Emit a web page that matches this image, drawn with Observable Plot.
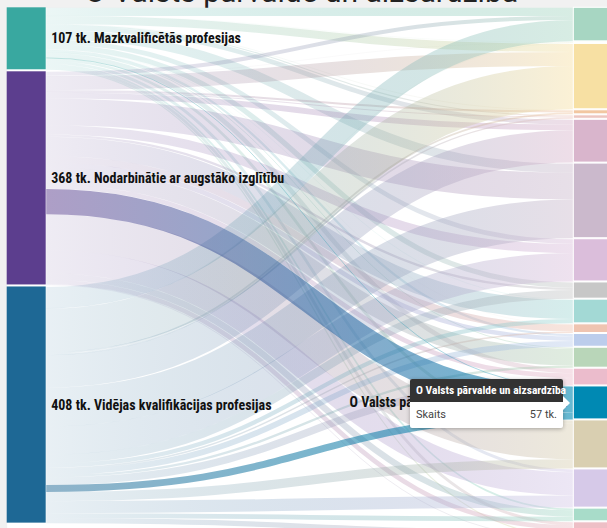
<!DOCTYPE html>
<html><head><meta charset="utf-8">
<script src="https://cdn.jsdelivr.net/npm/d3@7"></script>
<script src="https://cdn.jsdelivr.net/npm/@observablehq/plot@0.6"></script>
<style>
html,body{margin:0;padding:0;background:#f1f1f1;overflow:hidden;}
#wrap{position:relative;width:607px;height:528px;overflow:hidden;}
#title{position:absolute;left:0;width:603px;top:-23px;text-align:center;font-family:Roboto,sans-serif;font-size:30px;line-height:30px;color:#222;white-space:nowrap;}
#chart{position:absolute;left:0;top:0;}
#chart svg{overflow:hidden;}
.tip{position:absolute;left:410px;top:379px;width:153px;background:#fff;box-shadow:0 1px 4px rgba(0,0,0,.3);border-radius:2px;}
.tip .hd{background:#333;color:#fff;font-family:'Roboto Condensed','Liberation Sans Narrow','DejaVu Sans Condensed',sans-serif;font-weight:bold;font-size:11.5px;height:23px;line-height:23px;padding:0 6px;white-space:nowrap;border-radius:2px 2px 0 0;}
.tip .bd{display:flex;justify-content:space-between;padding:0 6px;height:26px;line-height:26px;font-family:Roboto,sans-serif;font-size:11px;color:#444;}
.tip .arrow{position:absolute;right:-7px;top:17px;width:0;height:0;border-top:7px solid transparent;border-bottom:7px solid transparent;border-left:7px solid #fff;}
</style></head>
<body>
<div id="wrap">
  <div id="title"></div>
  <div id="chart"></div>
</div>
<script>
const titleText = "O Valsts pārvalde un aizsardzība";
const sources = ["Mazkvalificētās profesijas", "Nodarbinātie ar augstāko izglītību", "Vidējas kvalifikācijas profesijas"];
const sectors = [
  "A Lauksaimniecība, mežsaimniecība un zivsaimniecība",
  "B Ieguves rūpniecība un karjeru izstrāde",
  "C Apstrādes rūpniecība",
  "D Elektroenerģija, gāzes apgāde",
  "E Ūdens apgāde; atkritumu apsaimniekošana",
  "F Būvniecība",
  "G Vairumtirdzniecība un mazumtirdzniecība",
  "H Transports un uzglabāšana",
  "I Izmitināšana un ēdināšanas pakalpojumi",
  "J Informācijas un komunikācijas pakalpojumi",
  "K Finanšu un apdrošināšanas darbības",
  "L Operācijas ar nekustamo īpašumu",
  "M Profesionālie, zinātniskie un tehniskie pakalpojumi",
  "N Administratīvo un apkalpojošo dienestu darbība",
  "O Valsts pārvalde un aizsardzība",
  "P Izglītība",
  "Q Veselība un sociālā aprūpe",
  "R Māksla, izklaide un atpūta",
  "S Citi pakalpojumi",
  "T Mājsaimniecību darbība",
  "U Ārpusteritoriālo organizāciju darbība"
];
// employed, thousands: source group -> sector A..U
const lowSkilled = [14, 0.3, 14, 0.5, 2, 8, 16, 8, 9, 0.5, 0.3, 4, 1.5, 8, 1, 5, 5, 3, 5, 2, 0];
const higherEdu  = [7, 0.3, 24, 3.5, 1.5, 10, 46, 16, 4, 33, 12, 8, 29, 8, 44, 62, 40, 11, 8, 0, 1];
const midSkilled = [37, 0.4, 75, 3, 2.5, 56, 67, 49, 15, 7.5, 2.7, 10, 4, 13, 12, 16, 21, 8, 9, 0, 0];
const unitLabel = "tk.";
const tooltipLabel = "Skaits";
const highlighted = "O Valsts pārvalde un aizsardzība";

const sourceColors = ["#39a8a0", "#5c3e8e", "#1e6895"];
const sectorColors = ["#a7d6c2","#d9e3b3","#f7e0a3","#f2c7a1","#ecc6c0","#d9b5cc","#cbb9cc","#dbbedb","#c7c7c7","#a3d9d5","#efc4b1","#bccdec","#b9d6b9","#ebbccc","#0089b3","#d9cfb1","#d6c9e8","#a8dcc9","#eebfc6","#f2e0b0","#cccccc"];

const matrix = [lowSkilled, higherEdu, midSkilled];
const colW = 0.0644, gapL = 3.5, gapR = 1.7;
const yDomain = [0, 900], yRange = [7.3, 7.3 + 900 * 0.5787];
const xRange = [6.7, 612.3];
const ky = (yRange[1] - yRange[0]) / (yDomain[1] - yDomain[0]);

let y = 0;
const leftNodes = sources.map((name, i) => {
  const v = d3.sum(matrix[i]);
  const n = {name, value: v, y0: y, y1: y + v, color: sourceColors[i]};
  y = n.y1 + gapL; return n;
});
y = 0;
const rightNodes = sectors.map((name, j) => {
  const v = d3.sum(matrix, r => r[j]);
  const n = {name, value: v, y0: y, y1: y + v, color: sectorColors[j]};
  y = n.y1 + gapR; return n;
});
// links: stacked at source in sector order, at target in source order
const sOff = leftNodes.map(n => n.y0), tOff = rightNodes.map(n => n.y0);
const links = [];
matrix.forEach((row, i) => row.forEach((v, j) => {
  if (v > 0) links.push({s: i, t: j, value: v, ys: sOff[i] + v / 2, yt: tOff[j] + v / 2,
    hi: sectors[j] === highlighted, grad: `url(#g${i}_${j})`});
  sOff[i] += v; tOff[j] += v;
}));

const labelFont = "'Roboto Condensed','Liberation Sans Narrow','DejaVu Sans Condensed',sans-serif";
const linkMark = (arr) => Plot.link(arr, {
  x1: () => colW, x2: () => 1 - colW, y1: "ys", y2: "yt",
  stroke: "grad", strokeWidth: d => d.value * ky, curve: "bump-x"
});

const chart = Plot.plot({
  width: 607, height: 528,
  marginLeft: 6.7, marginTop: 7.3, marginRight: 0, marginBottom: 0,
  x: {domain: [0, 1], range: xRange, axis: null},
  y: {domain: yDomain, range: yRange, axis: null},
  color: {type: "identity"},
  style: {background: "transparent", overflow: "hidden"},
  marks: [
    Plot.frame({fill: "white", stroke: null}),
    linkMark(links.filter(l => !l.hi)),
    linkMark(links.filter(l => l.hi)),
    Plot.rect(leftNodes, {x1: () => 0, x2: () => colW, y1: "y0", y2: "y1", fill: "color"}),
    Plot.rect(rightNodes, {x1: () => 1 - colW, x2: () => 1, y1: "y0", y2: "y1", fill: "color", stroke: "white", strokeWidth: 1}),
    Plot.text(leftNodes, {x: () => colW, y: d => (d.y0 + d.y1) / 2, text: d => `${Math.round(d.value)} ${unitLabel} ${d.name}`,
      textAnchor: "start", dx: 5, fontWeight: "bold", fontSize: 14, fill: "#111", fontFamily: labelFont}),
    Plot.text(rightNodes.filter(d => d.name === highlighted), {x: () => 1 - colW, y: d => (d.y0 + d.y1) / 2,
      text: d => `${d.name} ${Math.round(d.value)} ${unitLabel}`, textAnchor: "end", dx: -6, fontWeight: "bold", fontSize: 14, fill: "#111", fontFamily: labelFont})
  ]
});

// gradient definitions for links (source colour -> target colour)
const xs = d3.scaleLinear().domain([0, 1]).range(xRange);
const defs = d3.select(chart).insert("defs", ":first-child");
links.forEach(l => {
  const g = defs.append("linearGradient").attr("id", `g${l.s}_${l.t}`).attr("gradientUnits", "userSpaceOnUse")
    .attr("x1", xs(colW)).attr("x2", xs(1 - colW)).attr("y1", 0).attr("y2", 0);
  g.append("stop").attr("offset", 0).attr("stop-color", sourceColors[l.s]).attr("stop-opacity", l.hi ? 0.5 : 0.1);
  g.append("stop").attr("offset", 1).attr("stop-color", sectorColors[l.t]).attr("stop-opacity", l.hi ? 0.6 : 0.45);
});

document.getElementById("title").textContent = titleText;
document.getElementById("chart").appendChild(chart);

const o = rightNodes.find(d => d.name === highlighted);
const tip = document.createElement("div");
tip.className = "tip";
tip.innerHTML = `<div class="hd"></div><div class="bd"><span class="k"></span><span class="v"></span></div><div class="arrow"></div>`;
tip.querySelector(".hd").textContent = o.name;
tip.querySelector(".k").textContent = tooltipLabel;
tip.querySelector(".v").textContent = `${Math.round(o.value)} ${unitLabel}`;
document.getElementById("wrap").appendChild(tip);
</script>
</body></html>
